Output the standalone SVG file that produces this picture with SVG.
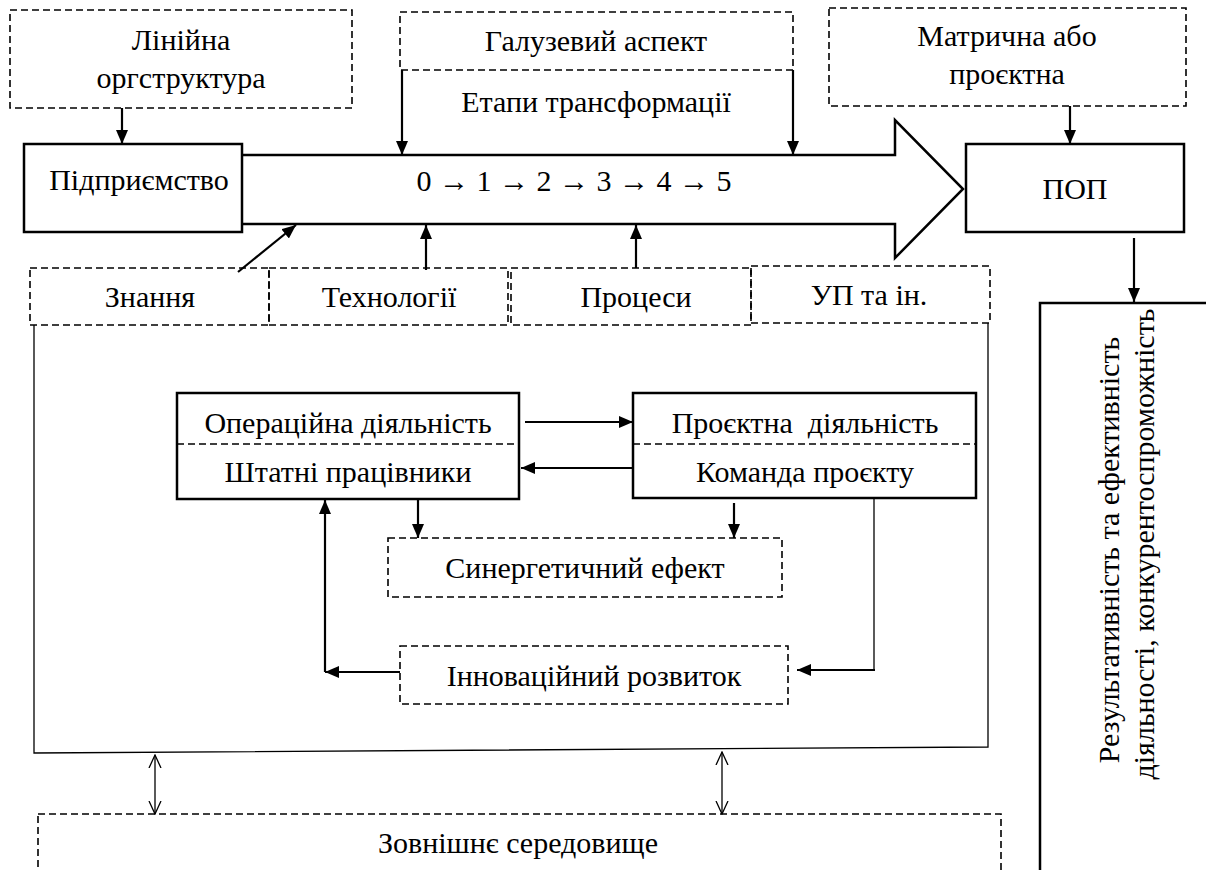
<svg xmlns="http://www.w3.org/2000/svg" width="1206" height="870" viewBox="0 0 1206 870">
<style>
text{font-size:30px;fill:#000;text-anchor:middle}
.solid{fill:#fff;stroke:#000;stroke-width:2.5}
.dash{fill:none;stroke:#000;stroke-width:1.6;stroke-dasharray:7,4}
.ln{fill:none;stroke:#000;stroke-width:2.2}
.thin{fill:none;stroke:#000;stroke-width:1.3}
</style>
<defs>
<marker id="ah" viewBox="0 0 14 12" refX="14" refY="6" markerWidth="14" markerHeight="12" markerUnits="userSpaceOnUse" orient="auto">
<path d="M0,0 L14,6 L0,12 Z" fill="#000"/>
</marker>
<marker id="oa" viewBox="0 0 14 14" refX="13" refY="7" markerWidth="14" markerHeight="14" markerUnits="userSpaceOnUse" orient="auto-start-reverse">
<path d="M0,1 L13,7 L0,13" fill="none" stroke="#000" stroke-width="1.3"/>
</marker>
</defs>
<g font-family="Liberation Serif, Times New Roman, DejaVu Serif, serif">

<g id="big-arrow">
<path d="M242,155 L895,155 L895,120 L963,189 L895,258 L895,224 L242,224" class="solid"/>
<text x="596" y="112">Етапи трансформації</text>
<text x="574" y="191">0 → 1 → 2 → 3 → 4 → 5</text>
</g>

<g id="enclosure">
<path d="M34,325 L34,753 L988,747 L988,323" class="thin"/>
</g>

<g id="linijna">
<rect x="10" y="10" width="342" height="98" class="dash"/>
<text x="181" y="50">Лінійна</text>
<text x="181" y="88">оргструктура</text>
</g>

<g id="pidpryiemstvo">
<rect x="24" y="144" width="218" height="88" class="solid"/>
<text x="139" y="190">Підприємство</text>
</g>

<g id="haluzevyi">
<rect x="400" y="12" width="393" height="58" class="dash"/>
<text x="596" y="51">Галузевий аспект</text>
</g>

<g id="matrychna">
<rect x="829" y="8" width="357" height="98" class="dash"/>
<text x="1007" y="46">Матрична або</text>
<text x="1007" y="84">проєктна</text>
</g>

<g id="pop">
<rect x="966" y="144" width="218" height="88" class="solid"/>
<text x="1075" y="199">ПОП</text>
</g>

<g id="rezultat">
<rect x="1040" y="303" width="180" height="580" class="solid"/>
<text transform="translate(1119,550) rotate(-90)">Результативність та ефективність</text>
<text transform="translate(1154,544) rotate(-90)">діяльності, конкурентоспроможність</text>
</g>

<g id="znannia">
<rect x="30" y="268" width="239" height="57" class="dash"/>
<text x="150" y="307">Знання</text>
</g>
<g id="tekhnolohii">
<rect x="269" y="268" width="239" height="57" class="dash"/>
<text x="389" y="307">Технології</text>
</g>
<g id="protsesy">
<rect x="511" y="268" width="240" height="57" class="dash"/>
<text x="636" y="307">Процеси</text>
</g>
<g id="up">
<rect x="751" y="266" width="239" height="57" class="dash"/>
<text x="869" y="305">УП та ін.</text>
</g>

<g id="operatsiina">
<rect x="177" y="393" width="342" height="106" class="solid"/>
<line x1="177" y1="444" x2="519" y2="444" class="dash"/>
<text x="348" y="433">Операційна діяльність</text>
<text x="348" y="482">Штатні працівники</text>
</g>

<g id="proiektna">
<rect x="633" y="393" width="343" height="105" class="solid"/>
<line x1="633" y1="444" x2="976" y2="444" class="dash"/>
<text x="805" y="433" xml:space="preserve">Проєктна  діяльність</text>
<text x="805" y="482">Команда проєкту</text>
</g>

<g id="synerhetychnyi">
<rect x="388" y="538" width="394" height="59" class="dash"/>
<text x="585" y="578">Синергетичний ефект</text>
</g>

<g id="innovatsiinyi">
<rect x="400" y="646" width="388" height="58" class="dash"/>
<text x="594" y="686">Інноваційний розвиток</text>
</g>

<g id="zovnishnie">
<rect x="38" y="814" width="963" height="70" class="dash"/>
<text x="518" y="853">Зовнішнє середовище</text>
</g>

<g id="connectors">
<line x1="122" y1="108" x2="122" y2="144" class="ln" marker-end="url(#ah)"/>
<line x1="402" y1="70" x2="402" y2="155" class="ln" marker-end="url(#ah)"/>
<line x1="793" y1="70" x2="793" y2="155" class="ln" marker-end="url(#ah)"/>
<line x1="1070" y1="106" x2="1070" y2="144" class="ln" marker-end="url(#ah)"/>
<line x1="1134" y1="238" x2="1134" y2="302" class="ln" marker-end="url(#ah)"/>
<line x1="238" y1="272" x2="296" y2="225" class="ln" marker-end="url(#ah)"/>
<line x1="426" y1="270" x2="426" y2="225" class="ln" marker-end="url(#ah)"/>
<line x1="636" y1="268" x2="636" y2="225" class="ln" marker-end="url(#ah)"/>
<line x1="525" y1="422" x2="633" y2="422" class="ln" marker-end="url(#ah)"/>
<line x1="633" y1="468" x2="521" y2="468" class="ln" marker-end="url(#ah)"/>
<line x1="418" y1="500" x2="418" y2="538" class="ln" marker-end="url(#ah)"/>
<line x1="734" y1="503" x2="734" y2="538" class="ln" marker-end="url(#ah)"/>
<line x1="400" y1="672" x2="325" y2="672" class="ln" marker-end="url(#ah)"/>
<line x1="325" y1="672" x2="325" y2="500" class="ln" marker-end="url(#ah)"/>
<line x1="874" y1="498" x2="874" y2="670" class="thin"/>
<line x1="875" y1="670" x2="797" y2="670" class="ln" marker-end="url(#ah)"/>
<line x1="155" y1="755" x2="155" y2="814" class="thin" marker-start="url(#oa)" marker-end="url(#oa)"/>
<line x1="722" y1="752" x2="722" y2="814" class="thin" marker-start="url(#oa)" marker-end="url(#oa)"/>
</g>
</g>
</svg>
